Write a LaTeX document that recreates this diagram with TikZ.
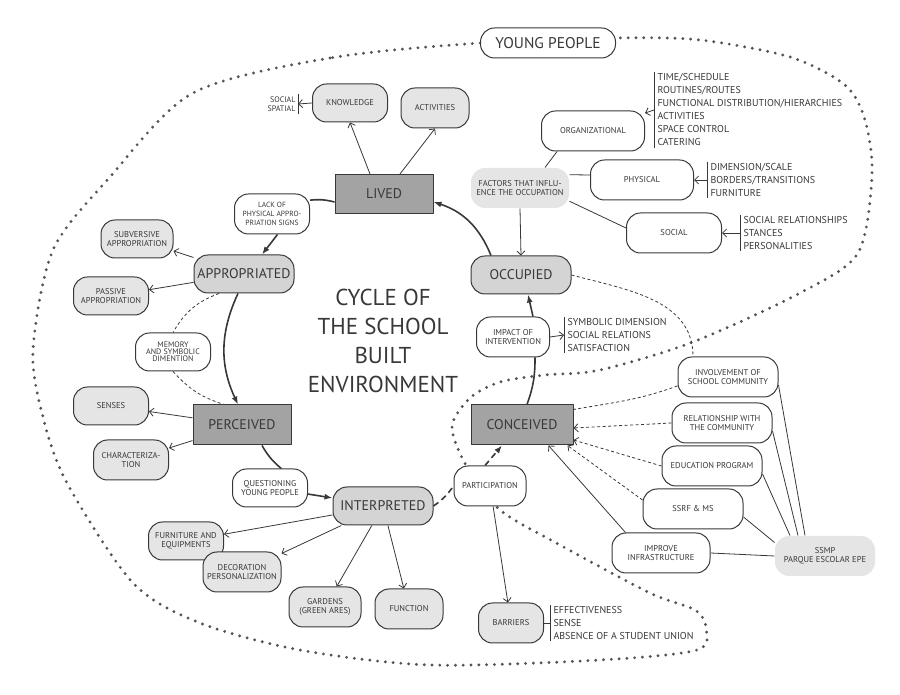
\documentclass[tikz,border=0pt]{standalone}
\usepackage{fontspec}
\setmainfont{PT Sans}
\usetikzlibrary{arrows,arrows.meta,shapes,positioning}
\definecolor{inkcol}{rgb}{0.22,0.22,0.22}
\definecolor{darkfill}{rgb}{0.64,0.64,0.64}
\definecolor{midfill}{rgb}{0.83,0.83,0.83}
\definecolor{lightfill}{rgb}{0.90,0.90,0.90}
\definecolor{dotcol}{rgb}{0.33,0.33,0.33}

\begin{document}
\begin{tikzpicture}[>={Straight Barb[length=4bp,width=8bp]},line join=bevel,
  every node/.style={text=inkcol,font=\fontsize{8.5bp}{9.5bp}\selectfont,align=center},
  roundbox/.style={draw=inkcol,line width=1bp,rounded corners=14bp,minimum width=75bp,minimum height=38bp,inner sep=0bp},
  stagebox/.style={draw=inkcol,line width=1bp,fill=darkfill,minimum width=98bp,minimum height=39bp,font=\fontsize{14bp}{16bp}\selectfont},
  phasebox/.style={roundbox,fill=midfill,minimum width=100bp,font=\fontsize{14bp}{16bp}\selectfont},
  itembox/.style={roundbox,fill=lightfill},
  notebox/.style={roundbox,fill=white},
  factorbox/.style={roundbox,draw=none,fill=lightfill},
  listtext/.style={align=left,anchor=west,inner xsep=3bp,inner ysep=1bp,font=\fontsize{10bp}{13bp}\selectfont},
  cycleedge/.style={line width=1.6bp,draw=inkcol},
  cyclearrow/.style={cycleedge,-{Latex[length=8bp,width=6bp]}},
  cycledash/.style={cycleedge,dash pattern=on 6bp off 4bp},
  linkedge/.style={line width=0.8bp,draw=inkcol},
  linkarrow/.style={linkedge,->},
  dashlink/.style={linkedge,dash pattern=on 3bp off 2.5bp},
  youngborder/.style={draw=dotcol,line width=3.2bp,line cap=round,dash pattern=on 0bp off 7.8bp},
]
  \pgfsetlinewidth{1bp}
  \useasboundingbox (0bp,0bp) rectangle (900bp,695bp);
%%
  % Border: young people
  \draw [youngborder] plot [smooth cycle] coordinates {
    (480bp,652bp) (330bp,637bp) (193bp,602bp) (110bp,518bp) (53bp,445bp)
    (33bp,345bp) (43bp,278bp) (67bp,212bp) (133bp,112bp) (200bp,72bp)
    (300bp,45bp) (430bp,30bp) (600bp,35bp) (697bp,45bp) (706bp,67bp)
    (695bp,85bp) (650bp,102bp) (560bp,150bp) (500bp,185bp) (467bp,228bp)
    (452bp,268bp) (470bp,297bp) (500bp,313bp) (545bp,320bp) (600bp,325bp)
    (693bp,353bp) (800bp,402bp) (858bp,442bp) (872bp,520bp) (865bp,575bp)
    (845bp,610bp) (790bp,638bp) (700bp,655bp) (615bp,657bp)};
  % Node: young
  \node [notebox,minimum width=135bp,minimum height=30bp,font=\fontsize{15.5bp}{17bp}\selectfont] (young) at (548bp,652bp) {YOUNG PEOPLE};
  % Node: title
  \node [font=\fontsize{23bp}{29bp}\selectfont] (title) at (383bp,354bp) {CYCLE OF\\THE SCHOOL\\BUILT\\ENVIRONMENT};
%%
  % Node: lived
  \node [stagebox] (lived) at (384bp,501bp) {LIVED};
  \node [itembox] (knowledge) at (350bp,592bp) {KNOWLEDGE};
  \node [itembox,minimum width=68bp,minimum height=40bp] (activities) at (435bp,587bp) {ACTIVITIES};
  \node [inner sep=2bp,anchor=east,align=right,font=\fontsize{8bp}{9bp}\selectfont] (socspat) at (298bp,591bp) {SOCIAL\\SPATIAL};
  \node [notebox,minimum height=40bp,font=\fontsize{7.5bp}{9bp}\selectfont] (lack) at (272bp,481bp) {LACK OF\\PHYSICAL APPRO-\\PRIATION SIGNS};
  % Node: appropriated
  \node [phasebox] (appropriated) at (244bp,421bp) {APPROPRIATED};
  \node [itembox,minimum width=72bp] (subversive) at (137bp,456bp) {SUBVERSIVE\\APPROPRIATION};
  \node [itembox] (passive) at (111bp,399bp) {PASSIVE\\APPROPRIATION};
  \node [notebox,font=\fontsize{8bp}{7bp}\selectfont] (memory) at (173bp,343bp) {MEMORY\\AND SYMBOLIC\\DIMENTION};
  % Node: perceived
  \node [stagebox,minimum height=40bp] (perceived) at (242bp,270bp) {PERCEIVED};
  \node [itembox] (senses) at (111bp,289bp) {SENSES};
  \node [itembox,minimum height=40bp] (charac) at (131bp,235bp) {CHARACTERIZA-\\TION};
  \node [notebox] (questioning) at (270bp,207bp) {QUESTIONING\\YOUNG PEOPLE};
  % Node: interpreted
  \node [phasebox] (interpreted) at (383bp,189bp) {INTERPRETED};
  \node [itembox] (furniture) at (186bp,154bp) {FURNITURE AND\\EQUIPMENTS};
  \node [itembox,minimum width=78bp,minimum height=40bp] (decoration) at (242bp,123bp) {DECORATION\\PERSONALIZATION};
  \node [itembox,minimum width=72bp,minimum height=40bp] (gardens) at (325bp,88bp) {GARDENS\\(GREEN ARES)};
  \node [itembox,minimum width=68bp,minimum height=40bp] (function) at (409bp,86bp) {FUNCTION};
  \node [notebox,minimum width=72bp,minimum height=40bp] (participation) at (490bp,209bp) {PARTICIPATION};
  \node [itembox,minimum width=65bp,minimum height=40bp] (barriers) at (511bp,72bp) {BARRIERS};
  \node [listtext] (barrlist) at (550bp,72bp) {EFFECTIVENESS\\SENSE\\ABSENCE OF A STUDENT UNION};
  % Node: conceived
  \node [stagebox,minimum width=102bp,minimum height=40bp] (conceived) at (522bp,270bp) {CONCEIVED};
  \node [notebox,minimum width=73bp,minimum height=40bp] (impact) at (513bp,358bp) {IMPACT OF\\INTERVENTION};
  \node [listtext] (implist) at (564bp,360bp) {SYMBOLIC DIMENSION\\SOCIAL RELATIONS\\SATISFACTION};
  % Node: occupied
  \node [phasebox] (occupied) at (521bp,420bp) {OCCUPIED};
  \node [factorbox,minimum width=98bp,minimum height=40bp] (factors) at (520bp,507bp) {FACTORS THAT INFLU-\\ENCE THE OCCUPATION};
  \node [notebox,minimum width=103bp,minimum height=40bp] (organizational) at (593bp,564bp) {ORGANIZATIONAL};
  \node [listtext] (orglist) at (654bp,585bp) {TIME/SCHEDULE\\ROUTINES/ROUTES\\FUNCTIONAL DISTRIBUTION/HIERARCHIES\\ACTIVITIES\\SPACE CONTROL\\CATERING};
  \node [notebox,minimum width=103bp,minimum height=40bp] (physical) at (642bp,515bp) {PHYSICAL};
  \node [listtext] (physlist) at (707bp,515bp) {DIMENSION/SCALE\\BORDERS/TRANSITIONS\\FURNITURE};
  \node [notebox,minimum width=95bp,minimum height=40bp] (social) at (674bp,462bp) {SOCIAL};
  \node [listtext] (soclist) at (740bp,462bp) {SOCIAL RELATIONSHIPS\\STANCES\\PERSONALITIES};
  % Node: stakeholders
  \node [notebox,minimum width=100bp,minimum height=40bp] (involvement) at (728bp,318bp) {INVOLVEMENT OF\\SCHOOL COMMUNITY};
  \node [notebox,minimum width=100bp,minimum height=40bp] (relationship) at (722bp,272bp) {RELATIONSHIP WITH\\THE COMMUNITY};
  \node [notebox,minimum width=100bp,minimum height=40bp] (education) at (712bp,229bp) {EDUCATION PROGRAM};
  \node [notebox,minimum width=100bp,minimum height=40bp] (ssrf) at (693bp,186bp) {SSRF \& MS};
  \node [notebox,minimum width=98bp,minimum height=40bp] (improve) at (661bp,142bp) {IMPROVE\\INFRASTRUCTURE};
  \node [factorbox,minimum width=100bp,minimum height=40bp] (ssmp) at (825bp,139bp) {SSMP\\PARQUE ESCOLAR EPE};
%%
  % Bars
  \draw [linkedge] (socspat.north east) -- (socspat.south east);
  \draw [linkedge] (barrlist.north west) -- (barrlist.south west);
  \draw [linkedge] (implist.north west) -- (implist.south west);
  \draw [linkedge] (orglist.north west) -- (orglist.south west);
  \draw [linkedge] (physlist.north west) -- (physlist.south west);
  \draw [linkedge] (soclist.north west) -- (soclist.south west);
%%
  % Edge: cycle
  \draw [cyclearrow] ([xshift=-30bp]occupied.north) to[bend right=25] ([yshift=-8bp]lived.east);
  \draw [cycleedge] ([yshift=-8bp]lived.west) to[bend right=10] (lack.20);
  \draw [cyclearrow] (lack.-75) -- ([xshift=18bp]appropriated.north);
  \draw [cyclearrow] ([xshift=-6bp]appropriated.south) to[bend right=25] ([xshift=-4bp]perceived.north);
  \draw [cycleedge] ([xshift=20bp]perceived.south) to[bend right=10] (questioning.60);
  \draw [cyclearrow] (questioning) -- (interpreted);
  \draw [cycledash] (interpreted.east) to[bend right=10] (participation.west);
  \draw [cycledash,-{Latex[length=8bp,width=6bp]}] ([xshift=-5bp]participation.north) -- ([xshift=-20bp]conceived.south);
  \draw [cycleedge] ([xshift=5bp]conceived.north) to[bend right=10] ([xshift=22bp]impact.south);
  \draw [cyclearrow] ([xshift=20bp]impact.north) -- ([xshift=7bp]occupied.south);
  % Edge: memory
  \draw [dashlink] ([xshift=-25bp]appropriated.south) to[bend right=20] (memory.north);
  \draw [dashlink] (memory.south) to[bend right=15] ([xshift=-18bp]perceived.north);
  % Edge: lived -> items
  \draw [linkarrow] ([xshift=-14bp]lived.north) -- (knowledge.south);
  \draw [linkarrow] ([xshift=16bp]lived.north) -- (activities.south);
  \draw [linkarrow] (knowledge.west) -- (socspat.east);
  % Edge: appropriated -> items
  \draw [linkarrow] (appropriated) -- (subversive);
  \draw [linkarrow] (appropriated) -- (passive);
  % Edge: perceived -> items
  \draw [linkarrow] (perceived) -- (senses);
  \draw [linkarrow] (perceived) -- (charac);
  % Edge: interpreted -> items
  \draw [linkarrow] (interpreted) -- (furniture);
  \draw [linkarrow] (interpreted) -- (decoration);
  \draw [linkarrow] (interpreted) -- (gardens);
  \draw [linkarrow] (interpreted) -- (function);
  \draw [linkarrow] (participation) -- (barriers);
  \draw [linkedge] (barriers.east) -- (barrlist.west);
  \draw [linkarrow] (impact.east) -- (implist.west);
  % Edge: factors
  \draw [linkarrow] (factors.south) -- (occupied.north);
  \draw [linkedge] ([xshift=25bp]factors.north) -- ([xshift=-36bp]organizational.south);
  \draw [linkedge] (factors.15) -- ([yshift=5bp]physical.west);
  \draw [linkedge] (factors.-15) -- ([yshift=5bp]social.west);
  \draw [linkarrow] (orglist.west) -- (organizational);
  \draw [linkarrow] (physlist.west) -- (physical.east);
  \draw [linkarrow] (soclist.west) -- (social.east);
  % Edge: stakeholders -> conceived
  \draw [dashlink] (occupied.east) to[out=-15,in=90] ([xshift=-35bp]involvement.north);
  \draw [dashlink] (involvement.190) to[out=200,in=10] ([yshift=-5bp]conceived.north east);
  \draw [dashlink,->] (relationship.west) -- ([yshift=-3bp]conceived.east);
  \draw [dashlink,->] (education.west) -- ([yshift=-15bp]conceived.east);
  \draw [dashlink,->] ([yshift=9bp]ssrf.west) -- ([xshift=-6bp]conceived.south east);
  \draw [linkarrow] ([xshift=14bp]improve.north west) -- ([xshift=-25bp]conceived.south east);
  % Edge: ssmp -- stakeholders
  \draw [linkedge] ([xshift=-20bp]ssmp.north) -- ([yshift=-8bp]involvement.east);
  \draw [linkedge] ([xshift=-27bp]ssmp.north) -- ([yshift=-8bp]relationship.east);
  \draw [linkedge] ([xshift=-35bp]ssmp.north) -- ([yshift=-8bp]education.east);
  \draw [linkedge] (ssmp.165) -- ([yshift=-8bp]ssrf.east);
  \draw [linkedge] (ssmp.west) -- (improve.east);
%
\end{tikzpicture}
\end{document}
